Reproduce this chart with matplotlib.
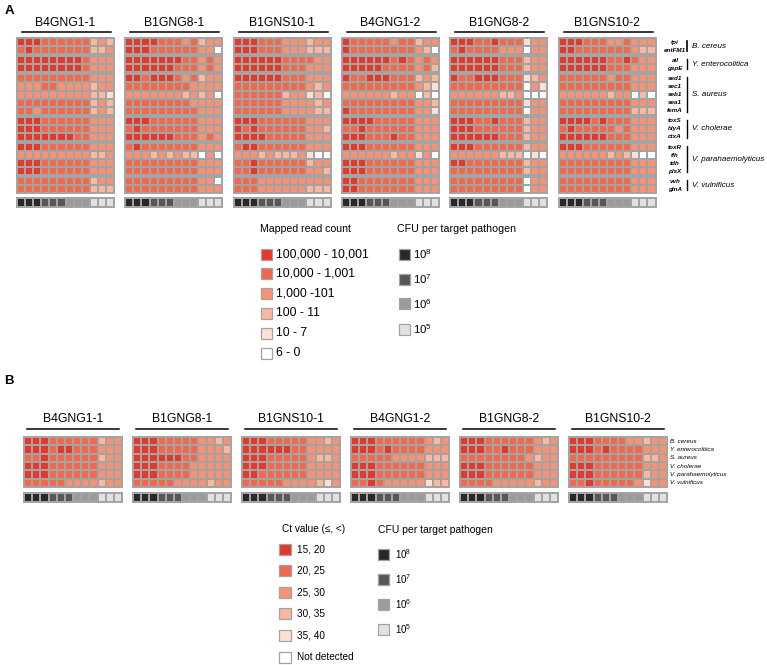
import numpy as np
import matplotlib
matplotlib.use("Agg")
import matplotlib.pyplot as plt
from matplotlib.colors import ListedColormap, BoundaryNorm
from matplotlib.patches import Rectangle
from matplotlib.lines import Line2D

plt.rcParams['font.family'] = ['Liberation Sans', 'DejaVu Sans']
plt.rcParams['mathtext.fontset'] = 'custom'
plt.rcParams['mathtext.rm'] = 'Liberation Sans'
plt.rcParams['mathtext.it'] = 'Liberation Sans:italic'
plt.rcParams['mathtext.bf'] = 'Liberation Sans:bold'

# ---------------- data ----------------
samples = ["B4GNG1-1", "B1GNG8-1", "B1GNS10-1", "B4GNG1-2", "B1GNG8-2", "B1GNS10-2"]
genes = ["tpi", "entFM1", "ail", "gspE", "sed1", "sec1", "seb1", "sea1", "femA",
         "toxS", "hlyA", "ctxA", "toxR", "tlh", "tdh", "plsX", "vvh", "glnA"]
gene_group_sizes = [2, 2, 5, 3, 4, 2]
species = ["B. cereus", "Y. enterocolitica", "S. aureus", "V. cholerae",
           "V. parahaemolyticus", "V. vulnificus"]
cfu_exponent = [8, 8, 8, 7, 7, 7, 6, 6, 6, 5, 5, 5]
cfu_levels = [8, 7, 6, 5]
read_bins = ["100,000 - 10,001", "10,000 - 1,001", "1,000 -101", "100 - 11", "10 - 7", "6 - 0"]
ct_bins = ["15, 20", "20, 25", "25, 30", "30, 35", "35, 40", "Not detected"]

# read-count class per cell (1 = highest ... 6 = lowest), rows = genes, cols = 12 samples
A_B4GNG1_1 = ["111222222434", "212222222443", "111111112333", "111111112333",
              "222222222333", "333223333433", "333333333445", "222222222434", "223222222434",
              "111222222333", "111222222333", "111111122333",
              "111222222333", "333333333443", "111222222333", "111222222333",
              "222222222433", "222222222444"]
A_B1GNG8_1 = ["111122232433", "111222222336", "111111122323", "111111222323",
              "112111232433", "222222223333", "333333343436", "222222223333", "222222222333",
              "111222222333", "212222222333", "111111222323",
              "212222222333", "333434344636", "222222222333", "222222222333",
              "222222222336", "222222222333"]
A_B1GNS10_1 = ["111222333433", "111222333444", "111111222233", "111111222333",
               "111111222333", "222222222343", "222222433546", "222222333343", "222222333344",
               "111222222333", "121222222334", "111122222333",
               "211222222333", "333434443566", "221222222433", "221222222334",
               "222333333333", "222333333444"]
A_B4GNG1_2 = ["122222322433", "122222222346", "111111212323", "111112222324",
              "122111222434", "222222222345", "333333433646", "222222222334", "122222222335",
              "111122222333", "221222222333", "111222122333",
              "111222222333", "333333433536", "111222222333", "111222222333",
              "112222222333", "112222222333"]
A_B1GNG8_2 = ["111221222533", "212222333633", "111111222433", "111111222433",
              "122111222543", "222222222635", "333333443666", "222222222533", "222222222633",
              "111221222433", "111222222433", "111111222433",
              "111222222433", "333333444656", "112222222433", "222222222433",
              "222222222633", "222222222633"]
A_B1GNS10_2 = ["111222332333", "112222222344", "111111221233", "111111222333",
               "222222322333", "222222222333", "333333433646", "222222222333", "222222222444",
               "111121222333", "212222232333", "111111222333",
               "111222222333", "333333434566", "222222222333", "222222222333",
               "222222222333", "222222222333"]

# Ct class per cell (1 = 15-20 ... 5 = 35-40, 6 = not detected), rows = species
B_B4GNG1_1 = ["111222222433", "111211222333", "221222222433", "111222222333", "111222222333", "222223333433"]
B_B1GNG8_1 = ["111222223343", "111222223334", "111111223333", "111222233333", "111222233333", "222223333433"]
B_B1GNS10_1 = ["111222223343", "111111223333", "111222223443", "111222223333", "112222223333", "222223333453"]
B_B4GNG1_2 = ["111222222343", "111212222333", "222223333444", "111222222333", "111222222333", "221233333544"]
B_B1GNG8_2 = ["111222222343", "111221222333", "222222223433", "111222222333", "111222222333", "222233333433"]
B_B1GNS10_2 = ["111222233433", "111212222333", "222222222443", "111222222333", "111222222433", "221222223533"]

panelA = [A_B4GNG1_1, A_B1GNG8_1, A_B1GNS10_1, A_B4GNG1_2, A_B1GNG8_2, A_B1GNS10_2]
panelB = [B_B4GNG1_1, B_B1GNG8_1, B_B1GNS10_1, B_B4GNG1_2, B_B1GNG8_2, B_B1GNS10_2]

# ---------------- style ----------------
W, H = 767, 665
RED = ['#e5372a', '#f1684b', '#f79274', '#fab8a0', '#fde0d4', '#ffffff']
GREYS = {8: '#282828', 7: '#575757', 6: '#9b9b9b', 5: '#e2e0e4'}
GRID = '#a3a3a3'

red_cmap = ListedColormap(RED)
red_norm = BoundaryNorm(np.arange(0.5, 7.5, 1), 6)
cfu_cmap = ListedColormap([GREYS[5], GREYS[6], GREYS[7], GREYS[8]])
cfu_norm = BoundaryNorm([4.5, 5.5, 6.5, 7.5, 8.5], 4)

fig = plt.figure(figsize=(W / 100, H / 100), dpi=100)


def to_mat(rows):
    return np.array([[int(c) for c in r] for r in rows])


def fx(x):
    return x / W


def fy(y):
    return 1 - y / H


def heat(x, y, w, h, data, cmap, norm, lw=1.1):
    ax = fig.add_axes([fx(x), fy(y + h), w / W, h / H])
    nr, nc = data.shape
    ax.pcolormesh(np.arange(nc + 1), np.arange(nr + 1), data, cmap=cmap, norm=norm,
                  edgecolors=GRID, linewidth=lw)
    ax.set_xlim(0, nc)
    ax.set_ylim(nr, 0)
    ax.set_xticks([])
    ax.set_yticks([])
    for s in ax.spines.values():
        s.set_color(GRID)
        s.set_linewidth(1.4)
    return ax


def hline(x0, x1, y, lw=1.1):
    fig.add_artist(Line2D([fx(x0), fx(x1)], [fy(y), fy(y)], color='black', lw=lw,
                          transform=fig.transFigure))


def vline(x, y0, y1, lw=1.0):
    fig.add_artist(Line2D([fx(x), fx(x)], [fy(y0), fy(y1)], color='black', lw=lw,
                          transform=fig.transFigure))


def square(x, y, w, h, color):
    fig.add_artist(Rectangle((fx(x), fy(y + h)), w / W, h / H, facecolor=color,
                             edgecolor=GRID, lw=0.9, transform=fig.transFigure))


cfu_row = np.array([cfu_exponent])

# ---------------- panel A ----------------
A_X0, A_PITCH, A_W = 17, 108.3, 97
A_Y0, ROW, GAP = 38, 8.05, 2.1
group_bounds = []
y = A_Y0
start = 0
for n in gene_group_sizes:
    group_bounds.append((start, start + n, y, y + n * ROW))
    y += n * ROW + GAP
    start += n

for i, (name, rows) in enumerate(zip(samples, panelA)):
    mat = to_mat(rows)
    x0 = A_X0 + i * A_PITCH
    for (r0, r1, yt, yb) in group_bounds:
        heat(x0, yt, A_W, yb - yt, mat[r0:r1], red_cmap, red_norm)
    heat(x0, 198, A_W, 9, cfu_row, cfu_cmap, cfu_norm)
    fig.text(fx(x0 + A_W / 2), fy(23.5), name, ha='center', va='center', fontsize=8.8)
    hline(x0 + 5, x0 + A_W - 3, 32)

# gene labels and species brackets
for g, (r0, r1, yt, yb) in enumerate(group_bounds):
    for k in range(r0, r1):
        yc = yt + (k - r0 + 0.5) * ROW
        fig.text(fx(675), fy(yc), genes[k], ha='center', va='center', fontsize=4.5,
                 style='italic', weight='bold')
    vline(687, yt + 3, yb - 3, lw=1.2 if g == 0 else 1.0)
    fig.text(fx(692), fy((yt + yb) / 2), species[g], ha='left', va='center',
             fontsize=5.8, style='italic')

fig.text(fx(9), fy(11.5), "A", ha='center', va='center', fontsize=9.5, weight='bold')

# legend A
fig.text(fx(260), fy(228.5), "Mapped read count", ha='left', va='center', fontsize=7.6)
for k, lab in enumerate(read_bins):
    yc = 254 + k * 19.8
    square(261, yc - 5.5, 11, 11, RED[k])
    fig.text(fx(276), fy(yc), lab, ha='left', va='center', fontsize=8.7)

fig.text(fx(397), fy(229.5), "CFU per target pathogen", ha='left', va='center', fontsize=7.7)
for k, e in enumerate(cfu_levels):
    yc = 254 + k * 25
    square(399, yc - 5.5, 11, 11, GREYS[e])
    fig.text(fx(413), fy(yc), r'$\mathregular{10^{%d}}$' % e, ha='left', va='center',
             fontsize=8.2)

# ---------------- panel B ----------------
B_X0, B_PITCH, B_W = 24, 109, 98
B_Y0, B_H = 437, 50
for i, (name, rows) in enumerate(zip(samples, panelB)):
    mat = to_mat(rows)
    x0 = B_X0 + i * B_PITCH
    heat(x0, B_Y0, B_W, B_H, mat, red_cmap, red_norm)
    heat(x0, 493, B_W, 9, cfu_row, cfu_cmap, cfu_norm)
    fig.text(fx(x0 + B_W / 2), fy(419), name, ha='center', va='center', fontsize=8.8)
    hline(x0 + 3, x0 + B_W - 3, 429)

for k, sp in enumerate(species):
    yc = B_Y0 + (k + 0.5) * B_H / 6
    fig.text(fx(670), fy(yc), sp, ha='left', va='center', fontsize=4.5, style='italic')

fig.text(fx(9), fy(381), "B", ha='center', va='center', fontsize=9.5, weight='bold')

# legend B
fig.text(fx(282), fy(529.5), "Ct value (\u2264, <)", ha='left', va='center', fontsize=7.2)
for k, lab in enumerate(ct_bins):
    yc = 549 + k * 21.6
    square(279, yc - 5.5, 12, 11, RED[k])
    fig.text(fx(297), fy(yc), lab, ha='left', va='center', fontsize=7.2)

fig.text(fx(378), fy(530), "CFU per target pathogen", ha='left', va='center', fontsize=7.5)
for k, e in enumerate(cfu_levels):
    yc = 554 + k * 25
    square(378, yc - 5.5, 11, 11, GREYS[e])
    fig.text(fx(395), fy(yc), r'$\mathregular{10^{%d}}$' % e, ha='left', va='center',
             fontsize=7.0)

fig.savefig("out.png", dpi=100)
